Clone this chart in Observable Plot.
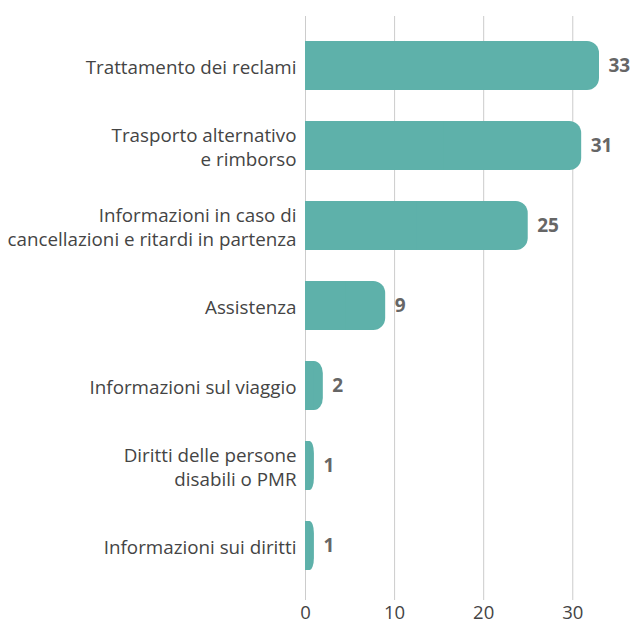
<!DOCTYPE html>
<html>
<head>
<meta charset="utf-8">
<script src="https://cdn.jsdelivr.net/npm/d3@7"></script>
<script src="https://cdn.jsdelivr.net/npm/@observablehq/plot@0.6"></script>
<style>
  html, body { margin: 0; padding: 0; background: #fff; }
  #chart { width: 633px; height: 624px; }
</style>
</head>
<body>
<div id="chart"></div>
<script>
const categories = [
  "Trattamento dei reclami",
  "Trasporto alternativo\ne rimborso",
  "Informazioni in caso di\ncancellazioni e ritardi in partenza",
  "Assistenza",
  "Informazioni sul viaggio",
  "Diritti delle persone\ndisabili o PMR",
  "Informazioni sui diritti"
];
const values = [33, 31, 25, 9, 2, 1, 1];
const xTicks = [0, 10, 20, 30];

const data = categories.map((c, i) => ({category: c, value: values[i]}));
const barColor = "#5eb1aa";
const font = "Open Sans, sans-serif";

const chart = Plot.plot({
  width: 633,
  height: 624,
  marginTop: 16,
  marginBottom: 24,
  marginLeft: 305,
  marginRight: 34,
  style: {fontFamily: font, background: "#fff"},
  x: {domain: [0, 33], ticks: xTicks},
  y: {domain: categories, paddingInner: 0.39, paddingOuter: 0.33, align: 0.46},
  marks: [
    Plot.gridX(xTicks, {stroke: "#cccccc", strokeOpacity: 1, strokeWidth: 1}),
    Plot.barX(data, {y: "category", x1: 0, x2: "value", fill: barColor, rx: 12}),
    Plot.barX(data, {y: "category", x1: 0, x2: d => d.value / 2, fill: barColor}),
    Plot.text(data, {y: "category", x: 0, text: "category", dx: -9, textAnchor: "end",
      fontSize: 18.8, fill: "#444", lineHeight: 1.3}),
    Plot.text(data, {y: "category", x: "value", text: d => String(d.value), dx: 9, textAnchor: "start",
      fontSize: 19, fontWeight: "bold", fill: "#666"}),
    Plot.axisX({ticks: xTicks, tickSize: 0, tickPadding: 5, fontSize: 18.5, color: "#444", label: null}),
    Plot.axisY({ticks: [], label: null, tickSize: 0})
  ]
});
document.getElementById("chart").appendChild(chart);
</script>
</body>
</html>
